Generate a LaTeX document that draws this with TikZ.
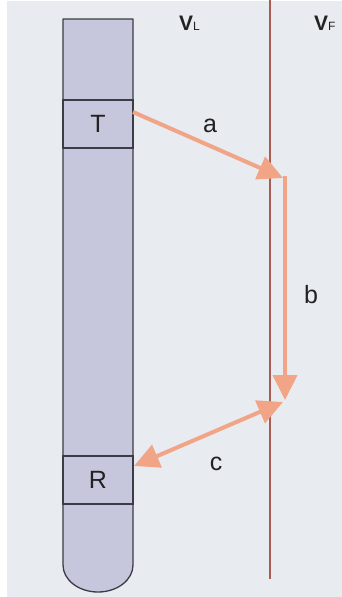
\documentclass[tikz,border=0pt]{standalone}
\usepackage{fontspec}
\setmainfont{Liberation Sans}
\usetikzlibrary{arrows.meta}
\definecolor{bgpanel}{HTML}{E8EBF0}
\definecolor{tubefill}{HTML}{C6C7DC}
\definecolor{tubeline}{HTML}{3C3C44}
\definecolor{wallline}{HTML}{A85C52}
\definecolor{pathcol}{HTML}{F2A487}
\definecolor{labelcol}{HTML}{222222}
\begin{document}
\begin{tikzpicture}[x=1pt,y=-1pt,
  tubeedge/.style={draw=tubeline,line width=1.3pt},
  band/.style={draw=tubeline,line width=1.3pt,fill=tubefill,minimum width=70pt,minimum height=48pt,inner sep=0pt,
    font=\fontsize{25}{25}\selectfont,text=labelcol},
  wall/.style={draw=wallline,line width=2pt},
  ray/.style={draw=pathcol,line width=4pt,-{Triangle[length=25pt,width=24pt]}},
  biray/.style={draw=pathcol,line width=4pt,{Triangle[length=25pt,width=24pt]}-{Triangle[length=25pt,width=24pt]}},
  steplabel/.style={font=\fontsize{25}{25}\selectfont,text=labelcol},
  vlabel/.style={font=\fontsize{21}{21}\selectfont\bfseries,text=labelcol,inner sep=0pt}]
  \useasboundingbox (0,0) rectangle (342,597);
  \fill[white] (0,0) rectangle (342,597);
  \fill[bgpanel] (7,1) rectangle (342,597);

  % tube body with rounded bottom
  \path[tubeedge,fill=tubefill,line join=round]
    (63,19) -- (133,19) -- (133,565) arc[start angle=0,end angle=180,x radius=35pt,y radius=-27pt] -- cycle;

  % transmitter and receiver bands
  \node[band] (T) at (98,124) {T};
  \node[band] (R) at (98,480) {R};

  % wall line
  \coordinate (wtop) at (270,0);
  \coordinate (wbot) at (270,579);
  \draw[wall] (wtop) -- (wbot);

  % labels of the two regions
  \node[vlabel,anchor=base west] (VL) at (179,30) {V\fontsize{12}{12}\selectfont\mdseries L};
  \node[vlabel,anchor=base west] (VF) at (314,30) {V\fontsize{12}{12}\selectfont\mdseries F};

  % signal path
  \coordinate (a0) at (133,112);
  \coordinate (a1) at (283,178);
  \coordinate (b0) at (285,176);
  \coordinate (b1) at (285,400);
  \coordinate (c0) at (283,402);
  \coordinate (c1) at (134,466);
  \draw[ray] (a0) -- (a1);
  \draw[ray,line cap=butt] (b0) -- (b1);
  \draw[biray] (c0) -- (c1);

  \node[steplabel] (la) at (210,126) {a};
  \node[steplabel] (lb) at (311,295) {b};
  \node[steplabel] (lc) at (216,464) {c};
\end{tikzpicture}
\end{document}
